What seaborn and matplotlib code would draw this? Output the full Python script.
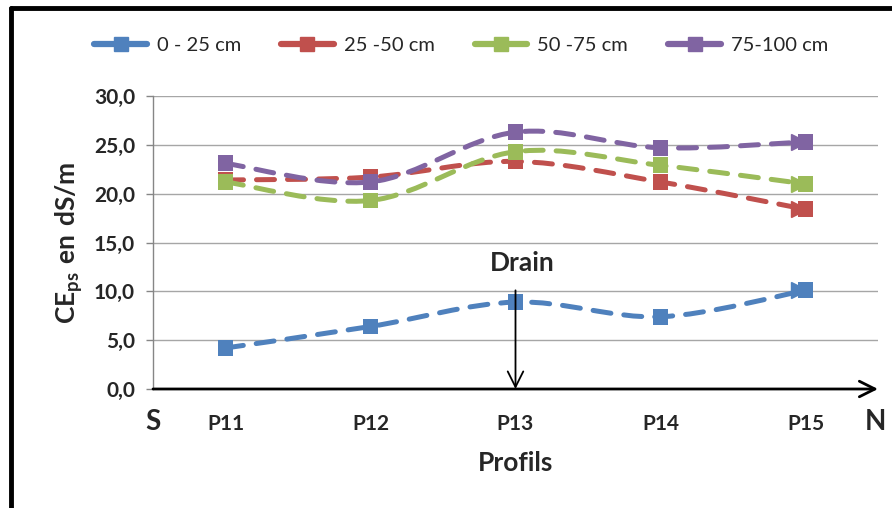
import numpy as np
import pandas as pd
import matplotlib
matplotlib.use('Agg')
import matplotlib.pyplot as plt
import matplotlib.transforms as mtransforms
from matplotlib.path import Path
from matplotlib.patches import PathPatch
from matplotlib.lines import Line2D
import seaborn as sns

# Données
profils = ['P11', 'P12', 'P13', 'P14', 'P15']
profondeurs = ['0 - 25 cm', '25 -50 cm', '50 -75 cm', '75-100 cm']
ce_0_25 = [4.2, 6.4, 8.9, 7.4, 10.1]
ce_25_50 = [21.4, 21.7, 23.3, 21.2, 18.4]
ce_50_75 = [21.2, 19.3, 24.3, 22.9, 21.0]
ce_75_100 = [23.1, 21.2, 26.3, 24.7, 25.3]
couleurs = ['#4F81BD', '#C0504D', '#9BBB59', '#8064A2']
drain_profil = 'P13'

series = [ce_0_25, ce_25_50, ce_50_75, ce_75_100]
df = pd.DataFrame({
    'Profil': profils * len(profondeurs),
    'Profondeur': np.repeat(profondeurs, len(profils)),
    'CE': np.concatenate(series),
})

sns.set_style('white')
plt.rcParams['font.family'] = ['Lato', 'DejaVu Sans']
plt.rcParams['mathtext.fontset'] = 'custom'
plt.rcParams['mathtext.rm'] = 'Lato'
plt.rcParams['mathtext.bf'] = 'Lato:bold'


def chemin_lisse(x, y):
    # courbe lissée (style Excel) passant par les points
    pts = np.column_stack([x, y]).astype(float)
    ext = np.vstack([pts[0], pts, pts[-1]])
    verts = [pts[0]]
    codes = [Path.MOVETO]
    for i in range(len(pts) - 1):
        p0, p1, p2, p3 = ext[i], ext[i + 1], ext[i + 2], ext[i + 3]
        verts += [p1 + (p2 - p0) / 6, p2 - (p3 - p1) / 6, p2]
        codes += [Path.CURVE4] * 3
    return Path(verts, codes)


fig = plt.figure(figsize=(8.92, 5.08), dpi=100)
ax = fig.add_axes([153 / 892, 1 - 389 / 508, 725 / 892, 293 / 508])

# grille
for v in range(5, 31, 5):
    ax.axhline(v, color='#a6a6a6', lw=1, zorder=0)

pos = np.arange(len(profils))
for vals, c in zip(series, couleurs):
    patch = PathPatch(chemin_lisse(pos, vals), fill=False, edgecolor=c, lw=3.6,
                      linestyle=(0, (3.6, 2.6)), capstyle='round', zorder=2)
    ax.add_patch(patch)

sns.scatterplot(data=df, x='Profil', y='CE', hue='Profondeur', palette=couleurs,
                marker='s', s=130, linewidth=0, legend=False, ax=ax, zorder=3)

# pointe de flèche en fin de série
trans = mtransforms.offset_copy(ax.transData, fig=fig, x=-7, y=0, units='dots')
for vals, c in zip(series, couleurs):
    ax.plot([pos[-1]], [vals[-1]], marker='>', ms=12, color=c, ls='',
            transform=trans, zorder=3)

ax.set_xlim(-0.5, len(profils) - 0.5)
ax.set_ylim(0, 30)
ax.set_yticks(range(0, 31, 5))
ax.set_yticklabels([f'{v:.1f}'.replace('.', ',') for v in range(0, 31, 5)],
                   fontsize=15, fontweight='bold')
ax.set_xticks(np.arange(-0.5, len(profils), 1))
ax.set_xticklabels([])
ax.set_xticks(pos, minor=True)
ax.set_xticklabels(profils, minor=True, fontsize=15, fontweight='bold')
ax.tick_params(axis='x', which='major', direction='out', length=8, color='#a6a6a6', width=1)
ax.tick_params(axis='x', which='minor', length=0, pad=18)
ax.tick_params(axis='y', direction='out', length=5, color='#868686', width=1, pad=8, left=True)

for s in ['top', 'right', 'bottom']:
    ax.spines[s].set_visible(False)
ax.spines['left'].set_color('#868686')
ax.spines['left'].set_linewidth(1)

# axe des x avec flèche
ax.annotate('', xy=(1.0, 0), xytext=(0, 0), xycoords='axes fraction',
            arrowprops=dict(arrowstyle='->', lw=2, color='black', mutation_scale=28,
                            shrinkA=0, shrinkB=0), zorder=4)

ax.set_xlabel('Profils', fontsize=19, fontweight='bold', labelpad=12)
ax.set_ylabel(r'$\mathbf{CE_{ps}\ en\ dS/m}$', fontsize=19, labelpad=6)

ax.text(0, -0.113, 'S', transform=ax.transAxes, ha='center', va='center',
        fontsize=20, fontweight='bold')
ax.text(0.996, -0.113, 'N', transform=ax.transAxes, ha='center', va='center',
        fontsize=20, fontweight='bold')

# Drain
idx = profils.index(drain_profil)
ax.annotate('', xy=(idx, 0), xytext=(idx, 10.1),
            arrowprops=dict(arrowstyle='->', lw=1.3, color='black', mutation_scale=28,
                            shrinkA=0, shrinkB=0), zorder=5)
ax.text(idx + 0.05, 12.9, 'Drain', ha='center', va='center', fontsize=19, fontweight='bold')

# légende
handles = [Line2D([0], [0], color=c, lw=4.5, marker='s', ms=10, solid_capstyle='round')
           for c in couleurs]
fig.legend(handles, profondeurs, loc='center', bbox_to_anchor=(0.517, 0.911), ncol=4,
           frameon=False, fontsize=14.5, handlelength=2.6, columnspacing=2.0, handletextpad=0.5)

# cadre
fig.add_artist(Line2D([11 / 892, 1], [1 - 8 / 508] * 2, transform=fig.transFigure,
                      color='black', lw=3.5))
fig.add_artist(Line2D([11 / 892] * 2, [0, 1 - 8 / 508], transform=fig.transFigure,
                      color='black', lw=3.5))

fig.savefig('out.png', dpi=100)
